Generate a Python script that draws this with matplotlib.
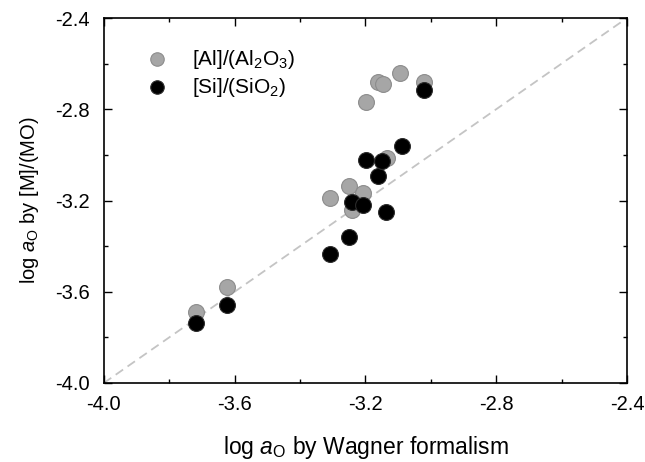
import matplotlib
matplotlib.use("Agg")
import matplotlib.pyplot as plt
from matplotlib.ticker import MultipleLocator

plt.rcParams['font.family'] = ['Liberation Sans', 'DejaVu Sans']
plt.rcParams['mathtext.fontset'] = 'custom'
plt.rcParams['mathtext.rm'] = 'Liberation Sans'
plt.rcParams['mathtext.it'] = 'Liberation Sans:italic'

# log aO by Wagner formalism (x) vs log aO by [M]/(MO) (y)
al_x = [-3.718, -3.622, -3.308, -3.249, -3.241, -3.206, -3.134, -3.197,
        -3.160, -3.145, -3.093, -3.022]
al_y = [-3.688, -3.578, -3.190, -3.137, -3.242, -3.166, -3.015, -2.770,
        -2.680, -2.690, -2.640, -2.680]

si_x = [-3.718, -3.622, -3.308, -3.249, -3.241, -3.206, -3.136, -3.160,
        -3.197, -3.149, -3.088, -3.022]
si_y = [-3.736, -3.659, -3.435, -3.359, -3.206, -3.220, -3.252, -3.093,
        -3.023, -3.026, -2.961, -2.716]

fig = plt.figure(figsize=(6.45, 4.62), dpi=100)
ax = fig.add_axes([0.161, 0.171, 0.811, 0.79])

ax.plot([-4.0, -2.4], [-4.0, -2.4], linestyle=(0, (5, 3)), color="#c4c4c4",
        linewidth=1.3, zorder=1)

ax.scatter(al_x, al_y, s=130, color="#a6a6a6", edgecolor="#8c8c8c",
           linewidth=0.8, label="[Al]/(Al$_2$O$_3$)", zorder=2)
ax.scatter(si_x, si_y, s=130, color="#000000", edgecolor="#2a2a2a",
           linewidth=0.8, label="[Si]/(SiO$_2$)", zorder=3)

ax.set_xlim(-4.0, -2.4)
ax.set_ylim(-4.0, -2.4)
ax.xaxis.set_major_locator(MultipleLocator(0.4))
ax.yaxis.set_major_locator(MultipleLocator(0.4))
ax.xaxis.set_minor_locator(MultipleLocator(0.2))
ax.yaxis.set_minor_locator(MultipleLocator(0.2))
ax.xaxis.set_major_formatter(plt.FormatStrFormatter("%.1f"))
ax.yaxis.set_major_formatter(plt.FormatStrFormatter("%.1f"))
ax.tick_params(which="both", direction="in", top=True, right=True,
               labelsize=14.5, width=1)
ax.tick_params(which="major", length=6)
ax.tick_params(which="minor", length=3)
ax.tick_params(axis="x", which="major", pad=9)
ax.tick_params(axis="y", which="major", pad=10)
for sp in ax.spines.values():
    sp.set_linewidth(1.2)

ax.set_xlabel(r"log $\mathit{a}_\mathrm{O}$ by Wagner formalism", fontsize=16.5,
              labelpad=14)
ax.set_ylabel(r"log $\mathit{a}_\mathrm{O}$ by [M]/(MO)", fontsize=14.5,
              labelpad=10)

ax.legend(loc="upper left", frameon=False, fontsize=15, handletextpad=0.7,
          markerscale=0.85, borderaxespad=0.5, labelspacing=0.25,
          bbox_to_anchor=(0.025, 0.97))

fig.savefig("out.png", dpi=100)
